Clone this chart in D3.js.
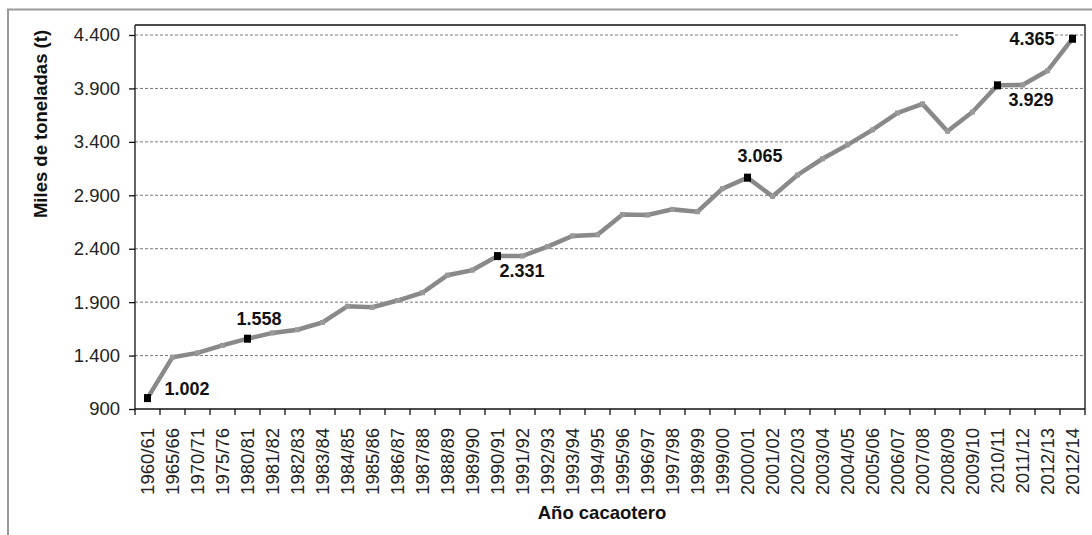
<!DOCTYPE html>
<html>
<head>
<meta charset="utf-8">
<script src="https://cdn.jsdelivr.net/npm/d3@7"></script>
<style>
  html, body { margin: 0; padding: 0; background: #fff; }
  svg { display: block; }
  text { font-family: "Liberation Sans", Arial, sans-serif; }
</style>
</head>
<body>
<svg id="chart" width="1092" height="535"></svg>
<script>
// ---- data ----
const categories = ["1960/61","1965/66","1970/71","1975/76","1980/81","1981/82","1982/83","1983/84","1984/85","1985/86","1986/87","1987/88","1988/89","1989/90","1990/91","1991/92","1992/93","1993/94","1994/95","1995/96","1996/97","1997/98","1998/99","1999/00","2000/01","2001/02","2002/03","2003/04","2004/05","2005/06","2006/07","2007/08","2008/09","2009/10","2010/11","2011/12","2012/13","2012/14"];
const values = [1002,1385,1425,1495,1558,1612,1642,1710,1862,1852,1915,1988,2152,2200,2331,2332,2420,2520,2530,2720,2716,2768,2746,2962,3065,2890,3090,3242,3372,3512,3670,3755,3500,3680,3929,3932,4065,4365];
const yTicks = [900,1400,1900,2400,2900,3400,3900,4400];
const highlighted = ["1960/61","1980/81","1990/91","2000/01","2010/11","2012/14"];
const labelText = ["1.002","1.558","2.331","3.065","3.929","4.365"];
const yTitle = "Miles de toneladas (t)";
const xTitle = "Año cacaotero";

// ---- layout ----
const svg = d3.select("#chart");
const L = 135, R = 1085, T = 25, B = 409;
const fmt = d => d3.format(",")(d).replace(/,/g, ".");

const x = d3.scaleBand().domain(categories).range([L, R]).paddingInner(0).paddingOuter(0);
const y = d3.scaleLinear().domain([900, 4400]).range([B, 35]);

// outer frame
svg.append("path").attr("d", `M8,535 L8,9.5 L1092,9.5`).attr("fill", "none")
  .attr("stroke", "#9a9a9a").attr("stroke-width", 2);

// gridlines
svg.append("g").selectAll("line").data(yTicks.slice(1)).join("line")
  .attr("x1", L).attr("x2", R).attr("y1", d => y(d)).attr("y2", d => y(d))
  .attr("stroke", "#7a7a7a").attr("stroke-width", 1).attr("stroke-dasharray", "3,2");

// white background behind top-right label
svg.append("rect").attr("x", 959).attr("y", 30).attr("width", 96).attr("height", 10).attr("fill", "#fff");

// plot border (top and right)
svg.append("path").attr("d", `M${L},${T} L${R},${T} L${R},${B}`).attr("fill", "none")
  .attr("stroke", "#111").attr("stroke-width", 1.3);

// y axis
const yAxis = d3.axisLeft(y).tickValues(yTicks).tickFormat(fmt).tickSize(6).tickPadding(9);
const gy = svg.append("g").attr("transform", `translate(${L},0)`).call(yAxis);
gy.select(".domain").attr("d", `M0,${B}V${T}`).attr("stroke", "#111").attr("stroke-width", 1.3);
gy.selectAll(".tick line").attr("stroke", "#111").attr("stroke-width", 1.3);
gy.selectAll(".tick text").attr("font-size", "18.5px").attr("fill", "#222")
  .attr("font-family", "'Liberation Sans', Arial, sans-serif");

// x axis line and ticks (at category boundaries)
svg.append("line").attr("x1", L).attr("x2", R).attr("y1", B).attr("y2", B)
  .attr("stroke", "#111").attr("stroke-width", 1.3);
const boundaries = categories.map(c => x(c)).concat([R]);
svg.append("g").selectAll("line").data(boundaries).join("line")
  .attr("x1", d => d).attr("x2", d => d).attr("y1", B).attr("y2", B + 6)
  .attr("stroke", "#111").attr("stroke-width", 1.3);

// x tick labels
svg.append("g").selectAll("text").data(categories).join("text")
  .attr("transform", d => `translate(${x(d) + x.bandwidth() / 2},428) rotate(-90)`)
  .attr("text-anchor", "end").attr("dy", "0.35em")
  .attr("font-size", "18.5px").attr("fill", "#222").text(d => d);

// line
const cx = d => x(d) + x.bandwidth() / 2;
const line = d3.line().x((d, i) => cx(categories[i])).y(d => y(d));
svg.append("path").datum(values).attr("d", line).attr("fill", "none")
  .attr("stroke", "#898989").attr("stroke-width", 4.5).attr("stroke-linejoin", "miter");

// small markers
svg.append("g").selectAll("rect").data(values).join("rect")
  .attr("x", (d, i) => cx(categories[i]) - 2.5).attr("y", d => y(d) - 2.5)
  .attr("width", 5).attr("height", 5).attr("fill", "#999");

// highlighted markers
const hl = highlighted.map((c, k) => ({ c, v: values[categories.indexOf(c)], t: labelText[k] }));
svg.append("g").selectAll("rect").data(hl).join("rect")
  .attr("x", d => cx(d.c) - 3.5).attr("y", d => y(d.v) - 4)
  .attr("width", 7).attr("height", 8).attr("fill", "#000");

// data labels (offsets relative to the point)
const offsets = [[17, -3], [-11, -14], [2, 21], [-10, -16], [11, 21], [-63, 6]];
svg.append("g").selectAll("text").data(hl).join("text")
  .attr("x", (d, i) => cx(d.c) + offsets[i][0])
  .attr("y", (d, i) => y(d.v) + offsets[i][1])
  .attr("font-size", "18px").attr("font-weight", "bold").attr("fill", "#111")
  .text(d => d.t);

// axis titles
svg.append("text").attr("transform", "translate(47,124) rotate(-90)")
  .attr("text-anchor", "middle").attr("font-size", "18.5px").attr("font-weight", "bold")
  .attr("fill", "#111").text(yTitle);
svg.append("text").attr("x", 602).attr("y", 519)
  .attr("text-anchor", "middle").attr("font-size", "18.5px").attr("font-weight", "bold")
  .attr("fill", "#111").text(xTitle);
</script>
</body>
</html>
